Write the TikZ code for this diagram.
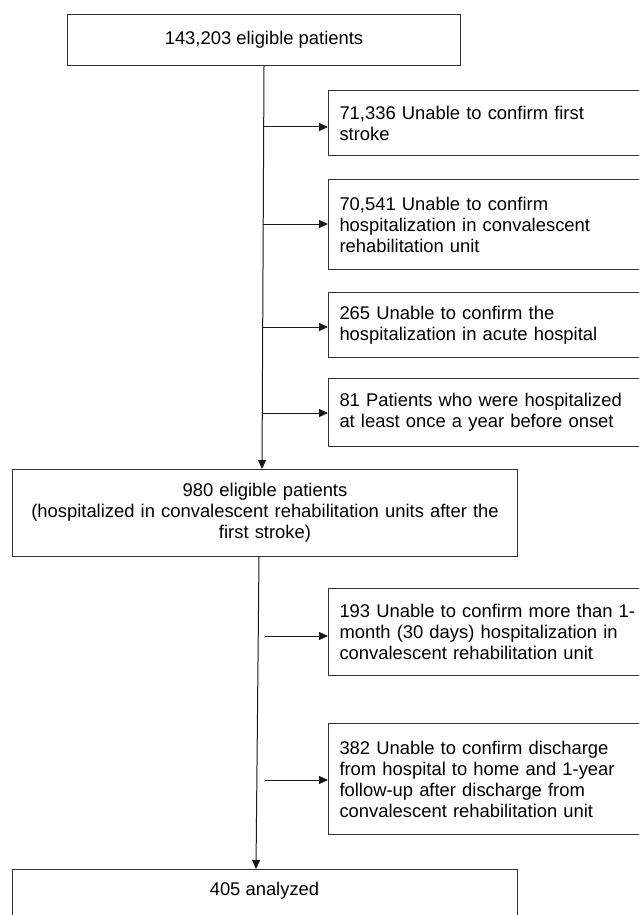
\documentclass[tikz,border=0pt]{standalone}
\usepackage{fontspec}
\setmainfont{Liberation Sans}
\usetikzlibrary{arrows.meta}
\begin{document}
\begin{tikzpicture}[x=1pt,y=-1pt,
  box/.style={draw=black!80, line width=1pt, font=\fontsize{18.4pt}{21pt}\selectfont, inner sep=0pt},
  exbox/.style={box, anchor=north west, text width=310pt, inner xsep=11pt, align=left, minimum width=332pt},
  plain/.style={font=\fontsize{18.4pt}{21pt}\selectfont, inner sep=0pt},
  arr/.style={-{Triangle[length=9pt,width=8pt]}, line width=1pt, draw=black!90}]
\useasboundingbox (0,0) rectangle (638,915);
\node[box, minimum width=393pt, minimum height=51pt, anchor=north west] (top) at (67,14) {143,203 eligible patients};
\node[exbox, minimum height=65pt] (ex1) at (328,90) {71,336 Unable to confirm first\\stroke};
\node[exbox, minimum height=90pt] (ex2) at (328,179) {70,541 Unable to confirm\\hospitalization in convalescent\\rehabilitation unit};
\node[exbox, minimum height=65pt] (ex3) at (328,292) {265 Unable to confirm the\\hospitalization in acute hospital};
\node[exbox, minimum height=68pt] (ex4) at (328,378) {81 Patients who were hospitalized\\at least once a year before onset};
\node[box, minimum width=505pt, minimum height=87pt, anchor=north west, text width=495pt, align=center] (mid) at (12,469) {980 eligible patients\\(hospitalized in convalescent rehabilitation units after the\\first stroke)};
\node[exbox, minimum height=87pt] (ex5) at (328,588) {193 Unable to confirm more than 1-\\month (30 days) hospitalization in\\convalescent rehabilitation unit};
\node[exbox, minimum height=111pt] (ex6) at (328,723) {382 Unable to confirm discharge\\from hospital to home and 1-year\\follow-up after discharge from\\convalescent rehabilitation unit};
\node[box, minimum width=505pt, minimum height=60pt, anchor=north west] (fin) at (12,869) {};
\node[plain] (fintext) at (264.5,891) {405 analyzed};
\coordinate (a1) at (264,127);
\coordinate (a2) at (263,224);
\coordinate (a3) at (263,327);
\coordinate (a4) at (262,413);
\coordinate (a5) at (265,636);
\coordinate (a6) at (265,780);
\draw[arr] (top.south) -- ([xshift=-3pt]mid.north);
\draw[arr] ([xshift=-6pt]mid.south) -- ([xshift=-9pt]fin.north);
\foreach \i in {1,...,6} {\draw[arr] (a\i) -- (a\i -| ex\i.west);}
\end{tikzpicture}
\end{document}
